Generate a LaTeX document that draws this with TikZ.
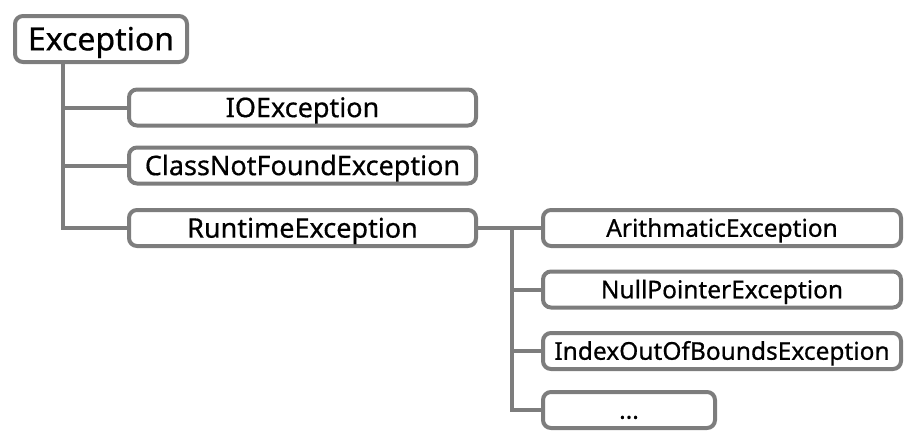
\documentclass[tikz,border=0pt]{standalone}
\usepackage{fontspec}
\setmainfont{Noto Sans}[FakeBold=0.6]
\definecolor{boxgray}{RGB}{125,125,125}
\tikzset{
  box/.style={draw=boxgray, line width=4pt, rounded corners=8pt, fill=white, inner sep=0pt, text=black, text depth=0pt},
  rootbox/.style={box, minimum width=172pt, minimum height=46pt, font=\fontsize{32}{38}\selectfont, text height=22.8pt},
  lbox/.style={box, minimum width=347pt, minimum height=36pt, font=\fontsize{27}{32}\selectfont, text height=19.3pt},
  rbox/.style={box, minimum width=358pt, minimum height=36pt, font=\fontsize{24.5}{29}\selectfont, text height=17.5pt},
  link/.style={draw=boxgray, line width=4pt}
}
\begin{document}
\begin{tikzpicture}[x=1pt,y=-1pt]
\useasboundingbox (0,0) rectangle (918,447);
\node[rootbox] (exc) at (101,39) {Exception};
\node[lbox] (io) at (302.5,107.5) {IOException};
\node[lbox] (cnf) at (302.5,165.5) {ClassNotFoundException};
\node[lbox] (rt) at (302.5,228) {RuntimeException};
\node[rbox] (ar) at (722,228) {ArithmaticException};
\node[rbox] (np) at (722,289.5) {NullPointerException};
\node[rbox] (ix) at (722,351) {IndexOutOfBoundsException};
\node[rbox, minimum width=172pt] (dt) at (629,410) {...};
\coordinate (t1) at ([xshift=-38pt]exc.south);
\coordinate (t2) at ([xshift=34pt]rt.east);
\draw[link] (t1) |- (io.west);
\draw[link] (t1) |- (cnf.west);
\draw[link] (t1) |- (rt.west);
\draw[link] (rt.east) -- (ar.west);
\draw[link] (t2) |- (np.west);
\draw[link] (t2) |- (ix.west);
\draw[link] (t2) |- (dt.west);
\end{tikzpicture}
\end{document}
